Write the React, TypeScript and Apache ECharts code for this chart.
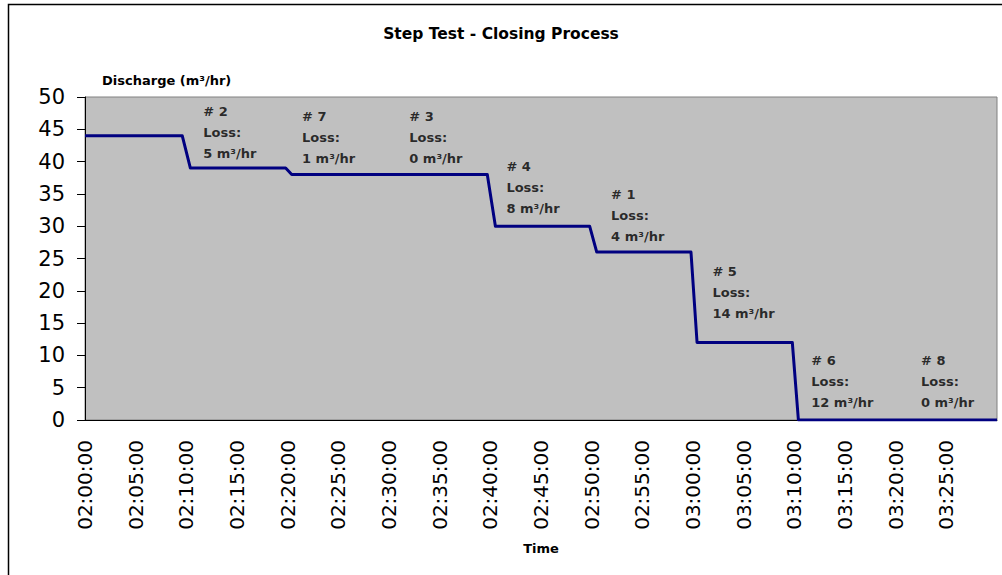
import React, { useEffect, useRef } from "react";
import * as echarts from "echarts";

// Step-line data (time of day, discharge m³/hr)
const stepTimes = [
  "02:00:00", "02:09:36", "02:10:24", "02:19:48", "02:20:24", "02:39:42", "02:40:30",
  "02:49:48", "02:50:30", "02:59:48", "03:00:24", "03:09:48", "03:10:24", "03:30:00",
];
const stepValues = [44, 44, 39, 39, 38, 38, 30, 30, 26, 26, 12, 12, 0, 0];

// Annotations (valve number, loss) anchored at (time, value)
const annNames = ["# 2", "# 7", "# 3", "# 4", "# 1", "# 5", "# 6", "# 8"];
const annLoss = [5, 1, 0, 8, 4, 14, 12, 0];
const annTimes = ["02:11:40", "02:21:25", "02:32:00", "02:41:35", "02:51:55", "03:01:55", "03:11:40", "03:22:30"];
const annValues = [49.4, 48.6, 48.6, 40.9, 36.5, 24.6, 10.8, 10.8];

const xMinTime = "02:00:00";
const xMaxTime = "03:30:00";
const yTicks = { min: 0, max: 50, interval: 5 };

const toMin = (t: string) => {
  const [h, m, s] = t.split(":").map(Number);
  return h * 60 + m + s / 60;
};
const fmt = (v: number) => {
  const total = Math.round(v * 60);
  const h = Math.floor(total / 3600);
  const m = Math.floor((total % 3600) / 60);
  const s = total % 60;
  const p = (n: number) => String(n).padStart(2, "0");
  return `${p(h)}:${p(m)}:${p(s)}`;
};

const FONT = "'DejaVu Sans', Verdana, sans-serif";

export default function App() {
  const ref = useRef<HTMLDivElement>(null);
  useEffect(() => {
    if (!ref.current) return;
    const chart = echarts.init(ref.current, undefined, { renderer: "svg" });
    const xMax = toMin(xMaxTime);
    chart.setOption({
      animation: false,
      backgroundColor: "#ffffff",
      textStyle: { fontFamily: FONT },
      title: {
        text: "Step Test - Closing Process",
        left: "center",
        top: 21,
        textStyle: { fontFamily: FONT, fontSize: 15.5, fontWeight: "bold", color: "#000" },
      },
      graphic: [
        {
          type: "rect",
          shape: { x: 8.5, y: 4.5, width: 1200, height: 800 },
          style: { fill: "none", stroke: "#000", lineWidth: 1.5 },
          silent: true,
        },
        {
          type: "text",
          left: 102,
          top: 74,
          style: {
            text: "Discharge (m³/hr)",
            font: `bold 13px ${FONT}`,
            fill: "#000",
          },
        },
      ],
      grid: {
        left: 85,
        right: 5,
        top: 97,
        bottom: 155,
        show: true,
        backgroundColor: "#c0c0c0",
        borderColor: "#808080",
        borderWidth: 1,
      },
      xAxis: {
        type: "value",
        min: toMin(xMinTime),
        max: xMax,
        interval: 5,
        name: "Time",
        nameLocation: "middle",
        nameGap: 122,
        nameTextStyle: { fontFamily: FONT, fontSize: 13, fontWeight: "bold", color: "#000" },
        axisLine: { show: true, lineStyle: { color: "#000", width: 1 } },
        axisTick: { show: false },
        splitLine: { show: false },
        axisLabel: {
          rotate: 90,
          margin: 20,
          fontSize: 20,
          fontFamily: FONT,
          color: "#000",
          showMaxLabel: false,
          formatter: (v: number) => (Math.abs(v - xMax) < 1e-6 ? "" : fmt(v)),
        },
      },
      yAxis: {
        type: "value",
        min: yTicks.min,
        max: yTicks.max,
        interval: yTicks.interval,
        axisLine: { show: true, lineStyle: { color: "#000", width: 1 } },
        axisTick: { show: true, inside: false, length: 8, lineStyle: { color: "#000" } },
        splitLine: { show: false },
        axisLabel: { fontSize: 21, fontFamily: FONT, color: "#000", margin: 20 },
      },
      series: [
        {
          type: "line",
          data: stepTimes.map((t, i) => [toMin(t), stepValues[i]]),
          showSymbol: false,
          symbol: "none",
          lineStyle: { color: "#000080", width: 3, join: "round" },
          z: 3,
        },
        {
          type: "scatter",
          symbolSize: 0,
          silent: true,
          data: annTimes.map((t, i) => ({
            value: [toMin(t), annValues[i]],
            name: annNames[i],
          })),
          label: {
            show: true,
            position: [0, 0],
            align: "left",
            verticalAlign: "top",
            fontFamily: FONT,
            fontSize: 13,
            fontWeight: "bold",
            lineHeight: 21,
            color: "#000",
            formatter: (p: any) => `${annNames[p.dataIndex]}\nLoss:\n${annLoss[p.dataIndex]} m³/hr`,
          },
          z: 4,
        },
      ],
    });
    return () => chart.dispose();
  }, []);
  return (
    <div
      ref={ref}
      style={{ position: "fixed", left: 0, top: 0, width: 1002, height: 575 }}
    />
  );
}
